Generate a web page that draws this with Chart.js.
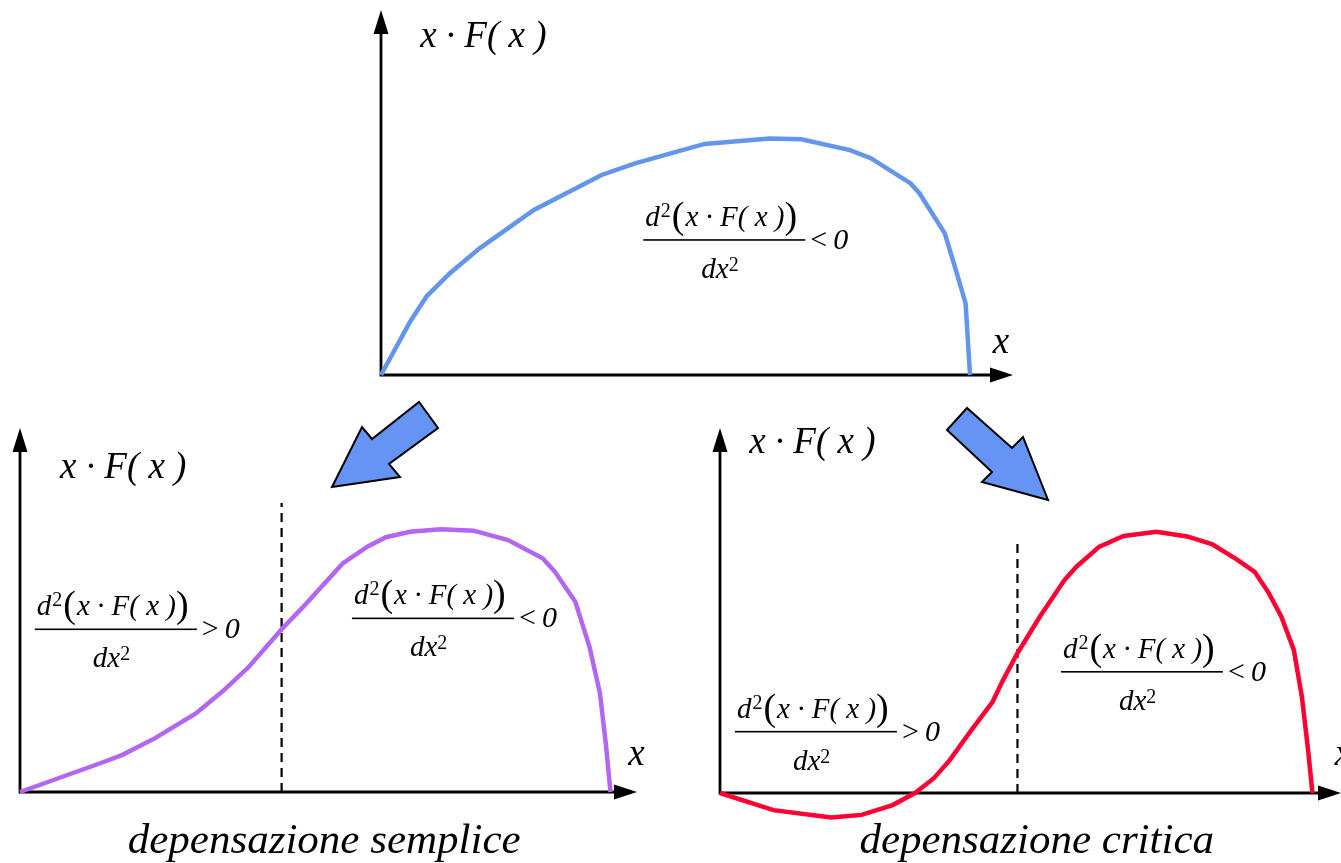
<!DOCTYPE html>
<html lang="it">
<head>
<meta charset="utf-8">
<title>Depensazione</title>
<script src="https://cdn.jsdelivr.net/npm/chart.js@4.4.1/dist/chart.umd.min.js"></script>
<style>
  html, body { margin: 0; padding: 0; background: #fff; overflow: hidden; }
  #tavola { position: relative; width: 1341px; height: 863px; }
  #tavola canvas { position: absolute; left: 0; top: 0; }
</style>
</head>
<body>
<div id="tavola">
  <canvas id="graficoAlto" width="1341" height="863"></canvas>
  <canvas id="graficoSemplice" width="1341" height="863"></canvas>
  <canvas id="graficoCritica" width="1341" height="863"></canvas>
</div>
<script>
// curva di partenza: x·F(x) concava su tutto l'intervallo
const xAlto = [0, 4.6, 7.2, 10.9, 15.6, 24.2, 34.9, 40.2, 51.2, 61.5, 66.5, 74.2, 77.5, 83.8, 85.2, 89.2, 90.8, 92.5, 93.2];
const yAlto = [0, 14.6, 21.5, 27.9, 34.7, 45.2, 54.8, 58.0, 63.3, 64.8, 64.6, 61.6, 59.4, 52.5, 49.8, 38.8, 29.7, 19.6, 0];

// depensazione semplice
const xSemplice = [0, 13.0, 16.6, 21.9, 28.5, 32.8, 37.1, 42.4, 45.7, 52.3, 56.3, 59.3, 63.2, 68.2, 73.5, 79.1, 84.7, 86.7, 90.0, 92.3, 94.0, 95.0, 95.7];
const ySemplice = [0, 7.9, 10.2, 14.8, 21.6, 27.6, 34.4, 44.7, 50.5, 62.8, 67.4, 70.0, 71.5, 72.2, 71.8, 69.2, 64.2, 60.5, 52.3, 39.9, 27.1, 12.4, 0];

// depensazione critica (tratto negativo vicino all'origine)
const xCritica = [0, 8.6, 17.9, 22.8, 27.8, 31.4, 34.4, 37.0, 40.3, 43.9, 45.6, 47.9, 51.5, 55.5, 57.4, 61.1, 65.0, 70.3, 75.2, 79.2, 83.2, 86.1, 88.4, 90.4, 92.4, 93.7, 94.7, 95.4];
const yCritica = [0, -4.7, -6.7, -6.0, -3.3, 0, 4.0, 9.0, 16.8, 25.0, 31.0, 38.3, 48.3, 58.4, 62.0, 67.5, 70.4, 71.6, 70.3, 68.2, 64.0, 60.6, 54.7, 48.3, 39.2, 26.4, 11.8, 0];

// punti di flesso (linea tratteggiata)
const flessoSemplice = [42.4, 79.4];
const flessoCritica = [47.9, 68.8];

const etichettaAsse = 'x · F( x )';
const titoloSemplice = 'depensazione semplice';
const titoloCritica = 'depensazione critica';

const SERIF = '"Liberation Serif", "DejaVu Serif", serif';

function punti(xs, ys) {
  return xs.map((v, i) => ({ x: v, y: ys[i] }));
}

function disegnaAssi(chart) {
  const { ctx, scales: { x, y } } = chart;
  const x0 = x.getPixelForValue(0), y0 = y.getPixelForValue(0);
  const xFine = x.getPixelForValue(100), yFine = y.getPixelForValue(100);
  ctx.save();
  ctx.strokeStyle = '#000';
  ctx.fillStyle = '#000';
  ctx.lineWidth = 2.8;
  ctx.beginPath();
  ctx.moveTo(x0, y0); ctx.lineTo(x0, yFine + 20);
  ctx.moveTo(x0 - 1.4, y0); ctx.lineTo(xFine - 20, y0);
  ctx.stroke();
  ctx.beginPath();
  ctx.moveTo(x0, yFine); ctx.lineTo(x0 - 7.5, yFine + 24); ctx.lineTo(x0 + 7.5, yFine + 24);
  ctx.closePath(); ctx.fill();
  ctx.beginPath();
  ctx.moveTo(xFine, y0); ctx.lineTo(xFine - 23, y0 - 7.5); ctx.lineTo(xFine - 23, y0 + 7.5);
  ctx.closePath(); ctx.fill();
  ctx.restore();
}

// d²(x·F(x)) / dx²  seguito da < 0 oppure > 0
function disegnaFrazione(ctx, left, ly, segno) {
  const W = 162;
  ctx.save();
  ctx.fillStyle = '#000';
  ctx.textBaseline = 'alphabetic';
  ctx.textAlign = 'left';
  let x = left + 2;
  ctx.font = 'italic 29px ' + SERIF;
  ctx.fillText('d', x, ly - 14);
  x += ctx.measureText('d').width;
  ctx.font = '20px ' + SERIF;
  ctx.fillText('2', x + 1, ly - 23);
  x += ctx.measureText('2').width + 2;
  ctx.font = '38px ' + SERIF;
  ctx.fillText('(', x, ly - 12);
  x += ctx.measureText('(').width + 1;
  ctx.font = 'italic 29px ' + SERIF;
  ctx.fillText('x · F( x )', x, ly - 14);
  x += ctx.measureText('x · F( x )').width;
  ctx.font = '38px ' + SERIF;
  ctx.fillText(')', x, ly - 12);

  ctx.fillRect(left, ly - 0.8, W, 1.6);

  ctx.font = 'italic 29px ' + SERIF;
  const dx = left + 58;
  ctx.fillText('dx', dx, ly + 38);
  const wdx = ctx.measureText('dx').width;
  ctx.font = '20px ' + SERIF;
  ctx.fillText('2', dx + wdx, ly + 31);

  ctx.font = '30px ' + SERIF;
  ctx.fillText(segno, left + W + 5, ly + 9);
  ctx.font = 'italic 30px ' + SERIF;
  ctx.fillText('0', left + W + 28, ly + 9);
  ctx.restore();
}

function testo(ctx, s, px, py, font, align) {
  ctx.save();
  ctx.fillStyle = '#000';
  ctx.font = font;
  ctx.textAlign = align || 'left';
  ctx.textBaseline = 'alphabetic';
  ctx.fillText(s, px, py);
  ctx.restore();
}

// frecce blu fra il grafico in alto e quelli in basso
function freccia(ctx, pts) {
  ctx.save();
  ctx.beginPath();
  pts.forEach(([px, py], i) => (i ? ctx.lineTo(px, py) : ctx.moveTo(px, py)));
  ctx.closePath();
  ctx.fillStyle = '#6694f5';
  ctx.fill();
  ctx.lineWidth = 2;
  ctx.lineJoin = 'miter';
  ctx.strokeStyle = '#000';
  ctx.stroke();
  ctx.restore();
}

function decorazioni(cfg) {
  return {
    id: 'decorazioni',
    beforeDatasetsDraw(chart) {
      disegnaAssi(chart);
    },
    afterDatasetsDraw(chart) {
      const { ctx, scales: { x, y } } = chart;
      const px = v => x.getPixelForValue(v);
      const py = v => y.getPixelForValue(v);
      testo(ctx, etichettaAsse, px(cfg.asse[0]), py(cfg.asse[1]), 'italic 37px ' + SERIF);
      testo(ctx, 'x', px(cfg.ascissa[0]), py(cfg.ascissa[1]), 'italic 37px ' + SERIF);
      cfg.frazioni.forEach(([fx, fy, s]) => disegnaFrazione(ctx, px(fx), py(fy), s));
      if (cfg.titolo) {
        testo(ctx, cfg.titolo[0], px(cfg.titolo[1]), py(cfg.titolo[2]), 'italic 43px ' + SERIF, 'center');
      }
      if (cfg.frecce) {
        freccia(ctx, [[332, 487], [362, 427], [372, 439], [419, 402], [438, 428], [389, 464], [400, 477]]);
        freccia(ctx, [[967, 408], [947, 430], [992, 472], [982, 482], [1048, 500], [1023, 437], [1012, 448]]);
      }
    }
  };
}

function creaGrafico(id, xs, ys, colore, padding, yMin, flesso, cfg) {
  const datasets = [{
    data: punti(xs, ys),
    showLine: true,
    borderColor: colore,
    borderWidth: 4.5,
    pointRadius: 0,
    tension: 0,
    clip: false
  }];
  if (flesso) {
    datasets.push({
      data: [{ x: flesso[0], y: 0 }, { x: flesso[0], y: flesso[1] }],
      showLine: true,
      borderColor: '#000',
      borderWidth: 2.2,
      borderDash: [9, 6],
      pointRadius: 0,
      clip: false
    });
  }
  return new Chart(document.getElementById(id), {
    type: 'scatter',
    data: { datasets },
    options: {
      responsive: false,
      devicePixelRatio: 1,
      animation: false,
      events: [],
      layout: { padding },
      scales: {
        x: { type: 'linear', min: 0, max: 100, display: false },
        y: { type: 'linear', min: yMin, max: 100, display: false }
      },
      plugins: { legend: { display: false }, tooltip: { enabled: false } }
    },
    plugins: [decorazioni(cfg)]
  });
}

creaGrafico('graficoAlto', xAlto, yAlto, '#6495ed',
  { left: 381, right: 328, top: 10, bottom: 488 }, 0, null, {
    asse: [6.2, 89.9],
    ascissa: [96.8, 6.0],
    frazioni: [[41.5, 37.0, '<']],
    frecce: true
  });

creaGrafico('graficoSemplice', xSemplice, ySemplice, '#b366f2',
  { left: 20, right: 704, top: 428, bottom: 71 }, 0, flessoSemplice, {
    asse: [6.5, 86.3],
    ascissa: [98.6, 7.4],
    frazioni: [[2.4, 44.7, '>'], [53.8, 47.7, '<']],
    titolo: [titoloSemplice, 49.3, -16.8]
  });

creaGrafico('graficoCritica', xCritica, yCritica, '#ff0033',
  { left: 720, right: 0, top: 428, bottom: 33.5 }, -10, flessoCritica, {
    asse: [4.7, 93.2],
    ascissa: [99.0, 7.7],
    frazioni: [[2.4, 16.8, '>'], [54.9, 33.2, '<']],
    titolo: [titoloCritica, 51.0, -16.4]
  });
</script>
</body>
</html>
